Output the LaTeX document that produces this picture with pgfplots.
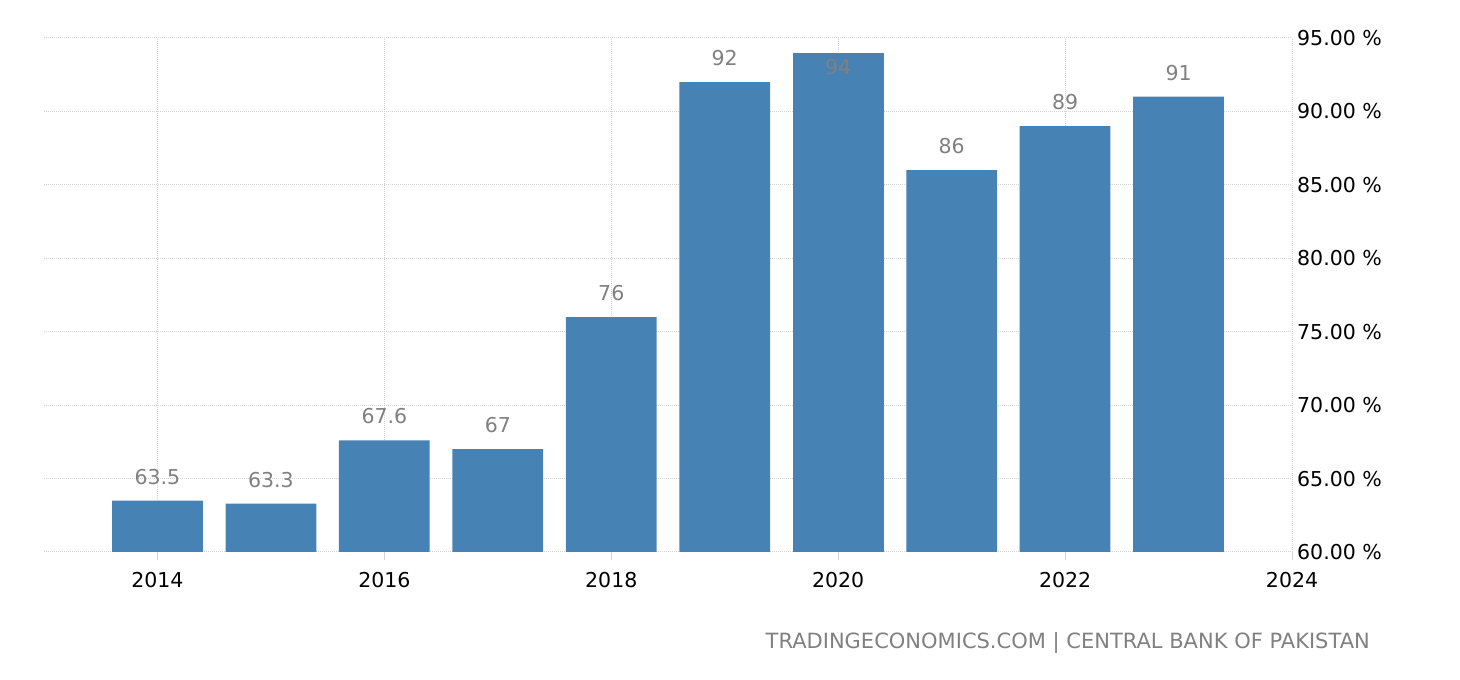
\documentclass[border=0pt]{standalone}
\usepackage{fontspec}
\setmainfont{DejaVu Sans}
\usepackage{pgfplots}
\pgfplotsset{compat=1.18}
\definecolor{barblue}{RGB}{70,130,180}
\definecolor{gridgray}{RGB}{212,212,212}
\definecolor{labelgray}{RGB}{128,128,128}
\newcommand{\chartfont}{\fontsize{20.5}{24}\selectfont}

\begin{document}
\begin{tikzpicture}[x=1pt,y=1pt]
\path[use as bounding box] (0,0) rectangle (1460,680);
\begin{axis}[
  at={(44pt,128pt)}, anchor=south west,
  scale only axis, width=1248pt, height=514pt,
  xmin=2013, xmax=2024, ymin=60, ymax=95,
  axis line style={draw=none},
  xtick={2014,2016,...,2024}, ytick={60,65,...,95},
  xtick pos=lower, tick align=outside, major tick length=8pt,
  xtick style={draw=gridgray, line width=1pt},
  ytick style={draw=none},
  yticklabel pos=right,
  /pgf/number format/assume math mode=true,
  x tick label style={/pgf/number format/1000 sep={}, font=\chartfont, inner sep=0pt, yshift=-12pt},
  yticklabel={\pgfmathprintnumber[fixed,fixed zerofill,precision=2]{\tick}~\%},
  y tick label style={font=\chartfont, anchor=west, inner sep=0pt, xshift=-3pt},
  grid=major, grid style={gridgray, line width=1pt, dash pattern=on 1pt off 1pt},
  ybar, bar width=0.8, clip=false,
  nodes near coords,
  nodes near coords style={font=\chartfont, text=labelgray, inner sep=0pt},
]
\addplot[fill=barblue, draw=none, bar shift=0pt,
  nodes near coords style={anchor=south, yshift=16pt}] coordinates {
  (2014,63.5) (2015,63.3) (2016,67.6) (2017,67) (2018,76)
  (2019,92) (2021,86) (2022,89) (2023,91)};
\addplot[fill=barblue, draw=none, bar shift=0pt,
  nodes near coords style={anchor=north, yshift=-6pt}] coordinates {(2020,94)};
\end{axis}
\node[anchor=base east, inner sep=0pt, text=labelgray, font=\fontsize{21}{24}\selectfont] at (1370,31)
  {TRADINGECONOMICS.COM | CENTRAL BANK OF PAKISTAN};
\end{tikzpicture}
\end{document}
